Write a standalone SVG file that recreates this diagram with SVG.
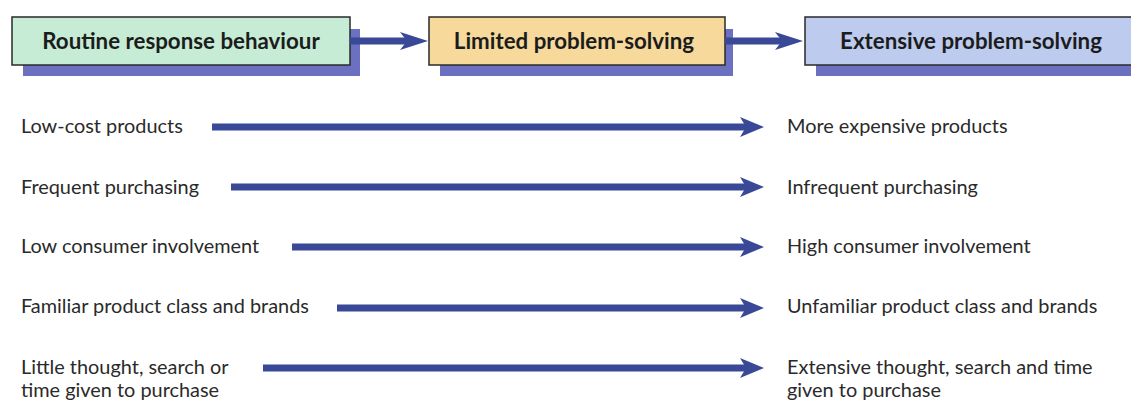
<svg xmlns="http://www.w3.org/2000/svg" width="1131" height="401" viewBox="0 0 1131 401">
<defs>
<style>
.box{stroke:#2a2a2a;stroke-width:1.5}
.shadow{fill:#6b70c0}
.hdr{font-family:Lato,"Liberation Sans",sans-serif;font-weight:bold;font-size:22.3px;fill:#1c1c1c;text-anchor:middle}
.lbl{font-family:Lato,"Liberation Sans",sans-serif;font-size:19.9px;fill:#2a2a2a}
.shaft{stroke:#3a4898;stroke-width:7;fill:none}
.head{fill:#3a4898}
</style>
</defs>
<rect width="1131" height="401" fill="#ffffff"/>
<g id="node-routine">
<rect class="shadow" x="23" y="29" width="337" height="47"/>
<rect class="box" x="12" y="17" width="338" height="48" fill="#c6ecd6"/>
<text class="hdr" x="181" y="49">Routine response behaviour</text>
</g>
<g id="node-limited">
<rect class="shadow" x="440" y="29" width="293" height="47"/>
<rect class="box" x="429" y="17" width="296" height="48" fill="#f6d99b"/>
<text class="hdr" x="574" y="49">Limited problem-solving</text>
</g>
<g id="node-extensive">
<rect class="shadow" x="816" y="29" width="330" height="47"/>
<rect class="box" x="805" y="17" width="340" height="48" fill="#bdcbef"/>
<text class="hdr" x="971" y="49">Extensive problem-solving</text>
</g>
<g id="connectors">
<line class="shaft" x1="350" y1="41" x2="408" y2="41"/>
<path class="head" d="M428,41 L400,32 L407,41 L400,50 Z"/>
<line class="shaft" x1="725" y1="41" x2="782" y2="41"/>
<path class="head" d="M803,41 L775,32 L782,41 L775,50 Z"/>
<line class="shaft" x1="212" y1="127" x2="748" y2="127"/>
<path class="head" d="M764,127 L740,117 L746,127 L740,137 Z"/>
<line class="shaft" x1="231" y1="187" x2="748" y2="187"/>
<path class="head" d="M764,187 L740,177 L746,187 L740,197 Z"/>
<line class="shaft" x1="292" y1="247" x2="748" y2="247"/>
<path class="head" d="M764,247 L740,237 L746,247 L740,257 Z"/>
<line class="shaft" x1="337" y1="308" x2="748" y2="308"/>
<path class="head" d="M764,308 L740,298 L746,308 L740,318 Z"/>
<line class="shaft" x1="263" y1="368" x2="748" y2="368"/>
<path class="head" d="M764,368 L740,358 L746,368 L740,378 Z"/>
</g>
<g id="left-labels">
<text class="lbl" x="21" y="133">Low-cost products</text>
<text class="lbl" x="21" y="194">Frequent purchasing</text>
<text class="lbl" x="21" y="253">Low consumer involvement</text>
<text class="lbl" x="21" y="313">Familiar product class and brands</text>
<text class="lbl" x="21" y="374">Little thought, search or</text>
<text class="lbl" x="21" y="397">time given to purchase</text>
</g>
<g id="right-labels">
<text class="lbl" x="787" y="133">More expensive products</text>
<text class="lbl" x="787" y="194">Infrequent purchasing</text>
<text class="lbl" x="787" y="253">High consumer involvement</text>
<text class="lbl" x="787" y="313">Unfamiliar product class and brands</text>
<text class="lbl" x="787" y="374">Extensive thought, search and time</text>
<text class="lbl" x="787" y="397">given to purchase</text>
</g>
</svg>
